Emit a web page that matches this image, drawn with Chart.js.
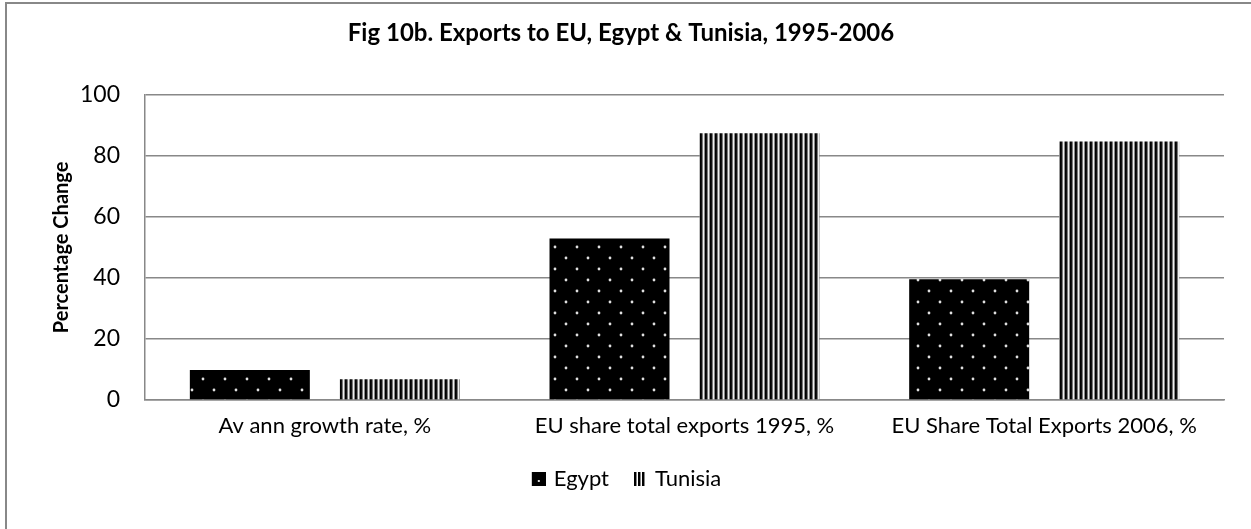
<!DOCTYPE html>
<html>
<head>
<meta charset="utf-8">
<script src="https://cdn.jsdelivr.net/npm/chart.js@4"></script>
<style>
    html, body { margin: 0; padding: 0; background: #fff; }
</style>
</head>
<body>
<canvas id="chart" width="1251" height="529"></canvas>
<script>
const categories = ["Av ann growth rate, %", "EU share total exports 1995, %", "EU Share Total Exports 2006, %"];
const egyptValues = [9.8, 52.9, 39.6];
const tunisiaValues = [6.8, 87.4, 84.7];
const yTicks = [0, 20, 40, 60, 80, 100];

const FONT = "Lato, 'Open Sans', sans-serif";

// dotted black fill for Egypt
function makeDots() {
    const c = document.createElement("canvas");
    c.width = 22;
    c.height = 22;
    const g = c.getContext("2d");
    g.fillStyle = "#000";
    g.fillRect(0, 0, 22, 22);
    g.fillStyle = "#e0e0e0";
    [[5, 5], [16, 16]].forEach(p => {
        g.beginPath();
        g.arc(p[0], p[1], 1.4, 0, Math.PI * 2);
        g.fill();
    });
    return c;
}

// vertical stripes for Tunisia
function makeStripes() {
    const c = document.createElement("canvas");
    c.width = 5;
    c.height = 5;
    const g = c.getContext("2d");
    const cols = ["#000", "#111", "#777", "#eee", "#888"];
    cols.forEach((col, i) => {
        g.fillStyle = col;
        g.fillRect(i, 0, 1, 5);
    });
    return c;
}

// legend icons: 14px square drawn on the right side so it sits close to the text
function legendDot() {
    const c = document.createElement("canvas");
    c.width = 28;
    c.height = 14;
    const g = c.getContext("2d");
    g.fillStyle = "#000";
    g.fillRect(14, 0, 14, 14);
    g.fillStyle = "#ddd";
    g.fillRect(20, 8, 2, 2);
    return c;
}

function legendStripes() {
    const c = document.createElement("canvas");
    c.width = 28;
    c.height = 14;
    const g = c.getContext("2d");
    g.fillStyle = "#000";
    [15, 19, 23].forEach(x => g.fillRect(x, 0, 2, 14));
    g.fillStyle = "#888";
    [17, 21, 25].forEach(x => g.fillRect(x, 0, 1, 14));
    return c;
}

const ctx = document.getElementById("chart").getContext("2d");
const dotPattern = ctx.createPattern(makeDots(), "repeat");
const stripePattern = ctx.createPattern(makeStripes(), "repeat");
const legendIcons = [legendDot(), legendStripes()];

const framePlugin = {
    id: "frame",
    beforeDraw(chart) {
        const c = chart.ctx;
        c.save();
        c.fillStyle = "#fff";
        c.fillRect(0, 0, chart.width, chart.height);
        c.strokeStyle = "#888";
        c.lineWidth = 2;
        c.strokeRect(6, 3, chart.width + 50, chart.height + 50);
        c.restore();
    }
};

new Chart(ctx, {
    type: "bar",
    data: {
        labels: categories,
        datasets: [{
            label: "Egypt",
            data: egyptValues,
            backgroundColor: dotPattern,
            borderWidth: 0
        }, {
            label: "Tunisia",
            data: tunisiaValues,
            backgroundColor: stripePattern,
            borderWidth: 0
        }]
    },
    options: {
        responsive: false,
        animation: false,
        categoryPercentage: 0.834,
        barPercentage: 0.8,
        layout: {
            padding: { left: 18, right: 27, top: 0, bottom: 29 }
        },
        plugins: {
            title: {
                display: true,
                text: "Fig 10b. Exports to EU, Egypt & Tunisia, 1995-2006",
                color: "#000",
                font: { family: FONT, size: 24, weight: "bold" },
                padding: { top: 19, bottom: 47 }
            },
            legend: {
                position: "bottom",
                labels: {
                    color: "#000",
                    font: { family: FONT, size: 22 },
                    usePointStyle: true,
                    padding: 13,
                    generateLabels: chart => {
                        const items = Chart.defaults.plugins.legend.labels.generateLabels(chart);
                        items.forEach((it, i) => it.pointStyle = legendIcons[i]);
                        return items;
                    }
                }
            },
            tooltip: { enabled: false }
        },
        scales: {
            x: {
                grid: { display: false },
                border: { color: "#888", width: 1.5 },
                ticks: {
                    color: "#000",
                    font: { family: FONT, size: 22 },
                    padding: 5,
                    maxRotation: 0
                },
                afterFit: scale => { scale.height = 55; }
            },
            y: {
                min: 0,
                max: 100,
                afterBuildTicks: scale => {
                    scale.ticks = yTicks.map(v => ({ value: v }));
                },
                grid: { color: "#888", lineWidth: 1.5, drawTicks: false },
                border: { color: "#888", width: 1.5 },
                ticks: {
                    color: "#000",
                    font: { family: FONT, size: 23 },
                    padding: 25
                },
                title: {
                    display: true,
                    text: "Percentage Change",
                    color: "#000",
                    font: { family: FONT, size: 20, weight: "bold" },
                    padding: { top: 32, bottom: 0 }
                },
                afterFit: scale => { scale.width = 127; }
            }
        }
    },
    plugins: [framePlugin]
});
</script>
</body>
</html>
